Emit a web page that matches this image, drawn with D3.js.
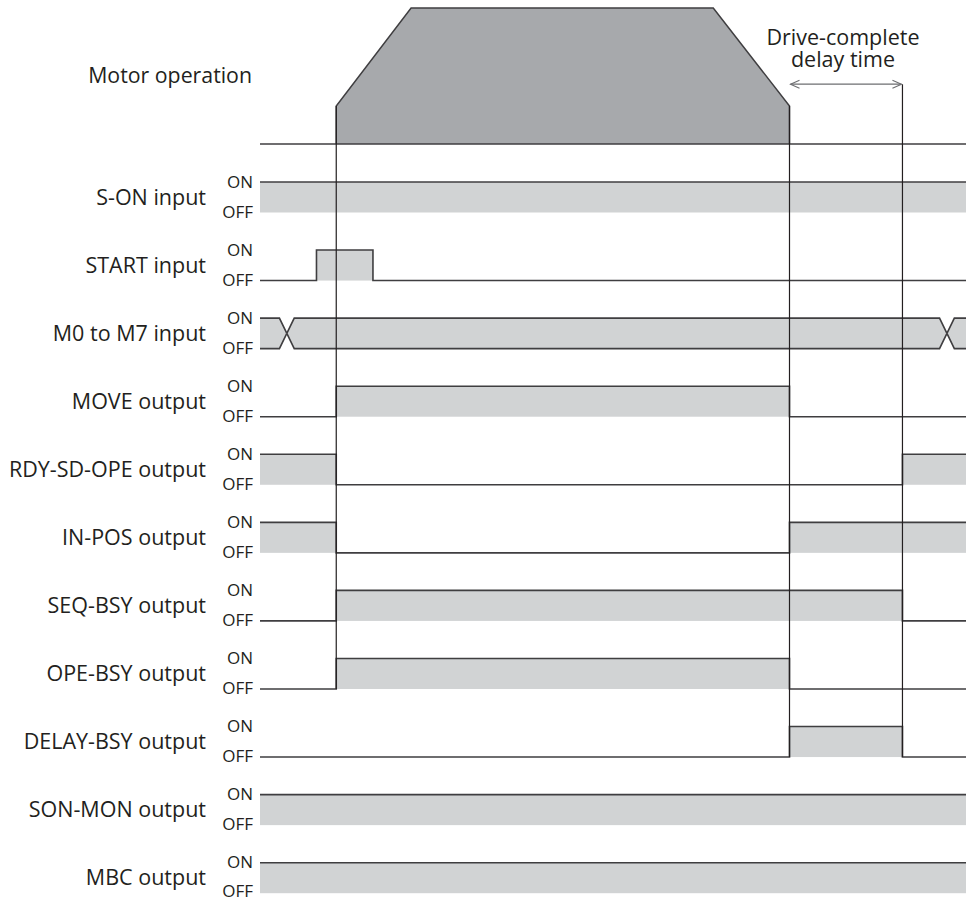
<!DOCTYPE html>
<html><head><meta charset="utf-8">
<script src="https://cdn.jsdelivr.net/npm/d3@7"></script>
<style>html,body{margin:0;padding:0;background:#fff}svg{display:block}</style>
</head><body>
<script>
// ---- data ----
const rowLabels = ["S-ON input","START input","M0 to M7 input","MOVE output","RDY-SD-OPE output",
  "IN-POS output","SEQ-BSY output","OPE-BSY output","DELAY-BSY output","SON-MON output","MBC output"];
// level change points [time, level]
const sOn      = [[0,1]];
const startIn  = [[0,0],[8,1],[16,0]];
const moveOut  = [[0,0],[10.8,1],[75,0]];
const rdyOut   = [[0,1],[10.8,0],[91,1]];
const inPosOut = [[0,1],[10.8,0],[75,1]];
const seqBsy   = [[0,0],[10.8,1],[91,0]];
const opeBsy   = [[0,0],[10.8,1],[75,0]];
const delayBsy = [[0,0],[75,1],[91,0]];
const sonMon   = [[0,1]];
const mbcOut   = [[0,1]];
const busChanges = [3.8, 97.3];   // M0 to M7 data changes
const busHalf = 1.05;
const motorProfile = [[10.8,0],[10.8,28],[21.4,100],[64.2,100],[75,28],[75,0]];
const markers = [ {t:10.8, from:28, toRow:7}, {t:75, from:28, toRow:8}, {t:91, from:44, toRow:8} ];
const delayArrow = {t0:75, t1:91, v:44};
const tEnd = 100;

const W = 966, H = 899;
const svg = d3.select("body").append("svg").attr("width", W).attr("height", H);
const x = d3.scaleLinear().domain([0, tEnd]).range([260, 966]);
const rowY = d3.scaleLinear().domain([0, 10]).range([182, 862.7]);
const levelH = 30.5;
const my = d3.scaleLinear().domain([0, 100]).range([144, 8]);

const ink = "#231f20", wave = "#3f3e40", fillL = "#d1d3d4", fillM = "#a7a9ac";
const font = "'Open Sans', sans-serif";

// ---- motor ----
svg.append("path")
  .attr("d", d3.line().x(d => x(d[0])).y(d => my(d[1]))(motorProfile))
  .attr("fill", fillM).attr("stroke", wave).attr("stroke-width", 1.5).attr("stroke-linejoin","miter");
svg.append("line").attr("x1", x(0)).attr("x2", x(tEnd)).attr("y1", my(0)).attr("y2", my(0))
  .attr("stroke", wave).attr("stroke-width", 1.6);
svg.append("text").attr("x", 252).attr("y", 83).attr("text-anchor","end")
  .attr("font-family", font).attr("font-size", 21.3).attr("fill", ink).text("Motor operation");

// ---- signals ----
const levelSeries = [sOn, startIn, null, moveOut, rdyOut, inPosOut, seqBsy, opeBsy, delayBsy, sonMon, mbcOut];

function segments(ch) {
  const segs = [];
  ch.forEach((c, i) => {
    const t1 = i + 1 < ch.length ? ch[i + 1][0] : tEnd;
    segs.push({t0: c[0], t1, lv: c[1]});
  });
  return segs;
}

levelSeries.forEach((ch, i) => {
  const yOn = rowY(i), yOff = rowY(i) + levelH;
  const g = svg.append("g");
  if (ch) {
    const segs = segments(ch);
    g.selectAll("rect").data(segs.filter(s => s.lv === 1)).join("rect")
      .attr("x", s => x(s.t0)).attr("width", s => x(s.t1) - x(s.t0))
      .attr("y", yOn).attr("height", levelH).attr("fill", fillL);
    const pts = [];
    segs.forEach((s, k) => {
      const yy = s.lv ? yOn : yOff;
      pts.push([x(s.t0), yy]); pts.push([x(s.t1), yy]);
    });
    g.append("path").attr("d", d3.line()(pts)).attr("fill","none")
      .attr("stroke", wave).attr("stroke-width", 1.6);
  } else {
    // bus
    const yMid = (yOn + yOff) / 2;
    const bounds = [0, ...busChanges, tEnd];
    for (let k = 0; k < bounds.length - 1; k++) {
      const a = bounds[k], b = bounds[k + 1];
      const aa = k === 0 ? a : a + busHalf, bb = k === bounds.length - 2 ? b : b - busHalf;
      const poly = [];
      if (k === 0) { poly.push([x(a), yOn]); } else { poly.push([x(a), yMid]); poly.push([x(aa), yOn]); }
      poly.push([x(bb), yOn]);
      if (k !== bounds.length - 2) poly.push([x(b), yMid]);
      poly.push([x(bb), yOff]);
      if (k === 0) poly.push([x(a), yOff]); else poly.push([x(aa), yOff]);
      g.append("path").attr("d", d3.line()(poly) + "Z").attr("fill", fillL).attr("stroke","none");
      const top = [], bot = [];
      if (k === 0) { top.push([x(a), yOn]); bot.push([x(a), yOff]); }
      else { top.push([x(a), yMid]); top.push([x(aa), yOn]); bot.push([x(a), yMid]); bot.push([x(aa), yOff]); }
      top.push([x(bb), yOn]); bot.push([x(bb), yOff]);
      if (k !== bounds.length - 2) { top.push([x(b), yMid]); bot.push([x(b), yMid]); }
      [top, bot].forEach(p => g.append("path").attr("d", d3.line()(p)).attr("fill","none")
        .attr("stroke", wave).attr("stroke-width", 1.6));
    }
  }
  svg.append("text").attr("x", 206).attr("y", yOn + 22.5).attr("text-anchor","end")
    .attr("font-family", font).attr("font-size", 21.5).attr("fill", ink).text(rowLabels[i]);
  svg.append("text").attr("x", 253).attr("y", yOn + 5.5).attr("text-anchor","end")
    .attr("font-family", font).attr("font-size", 17).attr("fill", ink).text("ON");
  svg.append("text").attr("x", 253).attr("y", Math.min(yOn + 35.5, H - 2)).attr("text-anchor","end")
    .attr("font-family", font).attr("font-size", 17).attr("fill", ink).text("OFF");
});

// ---- marker lines ----
svg.selectAll("line.mk").data(markers).join("line").attr("class","mk")
  .attr("x1", d => x(d.t)).attr("x2", d => x(d.t))
  .attr("y1", d => my(d.from)).attr("y2", d => rowY(d.toRow) + levelH)
  .attr("stroke", ink).attr("stroke-width", 1.2);

// ---- delay arrow ----
const ay = my(delayArrow.v), ax0 = x(delayArrow.t0), ax1 = x(delayArrow.t1);
const arrowCol = "#6d6e71";
svg.append("line").attr("x1", ax0 + 1).attr("x2", ax1 - 1).attr("y1", ay).attr("y2", ay)
  .attr("stroke", arrowCol).attr("stroke-width", 1.1);
svg.append("path").attr("d", `M${ax0+10},${ay-4}L${ax0+1},${ay}L${ax0+10},${ay+4}`)
  .attr("fill","none").attr("stroke", arrowCol).attr("stroke-width", 1.1);
svg.append("path").attr("d", `M${ax1-10},${ay-4}L${ax1-1},${ay}L${ax1-10},${ay+4}`)
  .attr("fill","none").attr("stroke", arrowCol).attr("stroke-width", 1.1);
const cx = (ax0 + ax1) / 2 - 3;
svg.append("text").attr("x", cx).attr("y", 45).attr("text-anchor","middle")
  .attr("font-family", font).attr("font-size", 21.5).attr("fill", ink).text("Drive-complete");
svg.append("text").attr("x", cx).attr("y", 67).attr("text-anchor","middle")
  .attr("font-family", font).attr("font-size", 21.5).attr("fill", ink).text("delay time");
</script>
</body></html>
